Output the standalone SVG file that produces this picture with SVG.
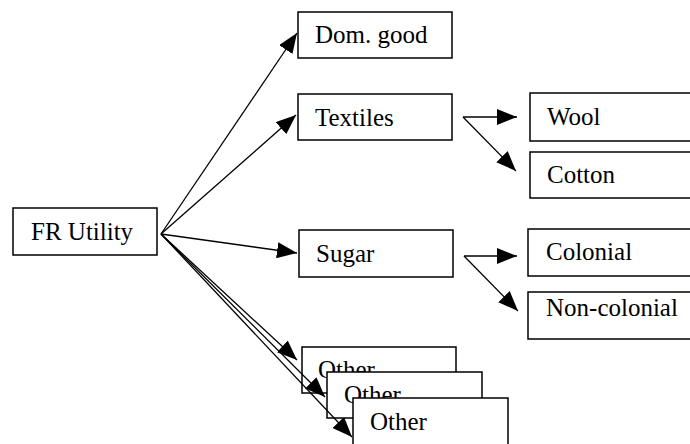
<svg xmlns="http://www.w3.org/2000/svg" width="690" height="444" viewBox="0 0 690 444">
<defs>
<style>
.box{fill:#fff;stroke:#000;stroke-width:1.5}
.lbl{font-family:"Liberation Serif","Times New Roman",serif;font-size:25px;fill:#000}
.con{stroke:#000;stroke-width:1.3;fill:none;marker-end:url(#ah)}
</style>
<marker id="ah" markerUnits="userSpaceOnUse" markerWidth="21" markerHeight="16" refX="20" refY="8" orient="auto">
<path d="M0,0 L20,8 L0,16 Z" fill="#000"/>
</marker>
</defs>
<rect width="690" height="444" fill="#fff"/>
<g id="fr-utility"><rect class="box" x="13" y="208" width="144" height="47"/><text class="lbl" x="31" y="240">FR Utility</text></g>
<g id="dom-good"><rect class="box" x="298" y="12" width="154" height="46"/><text class="lbl" x="315" y="43">Dom. good</text></g>
<g id="textiles"><rect class="box" x="298" y="94" width="154" height="46"/><text class="lbl" x="315" y="126">Textiles</text></g>
<g id="sugar"><rect class="box" x="299" y="230" width="154" height="47"/><text class="lbl" x="316" y="262">Sugar</text></g>
<g id="wool"><rect class="box" x="530" y="93" width="180" height="48"/><text class="lbl" x="547" y="125">Wool</text></g>
<g id="cotton"><rect class="box" x="530" y="152" width="180" height="46"/><text class="lbl" x="547" y="183">Cotton</text></g>
<g id="colonial"><rect class="box" x="528" y="229" width="180" height="47"/><text class="lbl" x="546" y="260">Colonial</text></g>
<g id="non-colonial"><rect class="box" x="528" y="292" width="180" height="47"/><text class="lbl" x="546" y="316">Non-colonial</text></g>
<g id="other-1"><rect class="box" x="302" y="347" width="154" height="46"/><text class="lbl" x="318" y="378">Other</text></g>
<g id="other-2"><rect class="box" x="327" y="372" width="155" height="46"/><text class="lbl" x="344" y="403">Other</text></g>
<g id="other-3"><rect class="box" x="353" y="398" width="155" height="50"/><text class="lbl" x="370" y="430">Other</text></g>
<g id="connectors">
<line class="con" x1="161" y1="234" x2="297" y2="33"/>
<line class="con" x1="161" y1="234" x2="296" y2="115"/>
<line class="con" x1="161" y1="234" x2="297" y2="253"/>
<line class="con" x1="161" y1="234" x2="297" y2="360"/>
<line class="con" x1="161" y1="234" x2="325" y2="397"/>
<line class="con" x1="161" y1="234" x2="352" y2="437"/>
<line class="con" x1="463" y1="117" x2="517" y2="117"/>
<line class="con" x1="463" y1="117" x2="516" y2="171"/>
<line class="con" x1="464" y1="256" x2="517" y2="256"/>
<line class="con" x1="464" y1="256" x2="518" y2="311"/>
</g>
</svg>
